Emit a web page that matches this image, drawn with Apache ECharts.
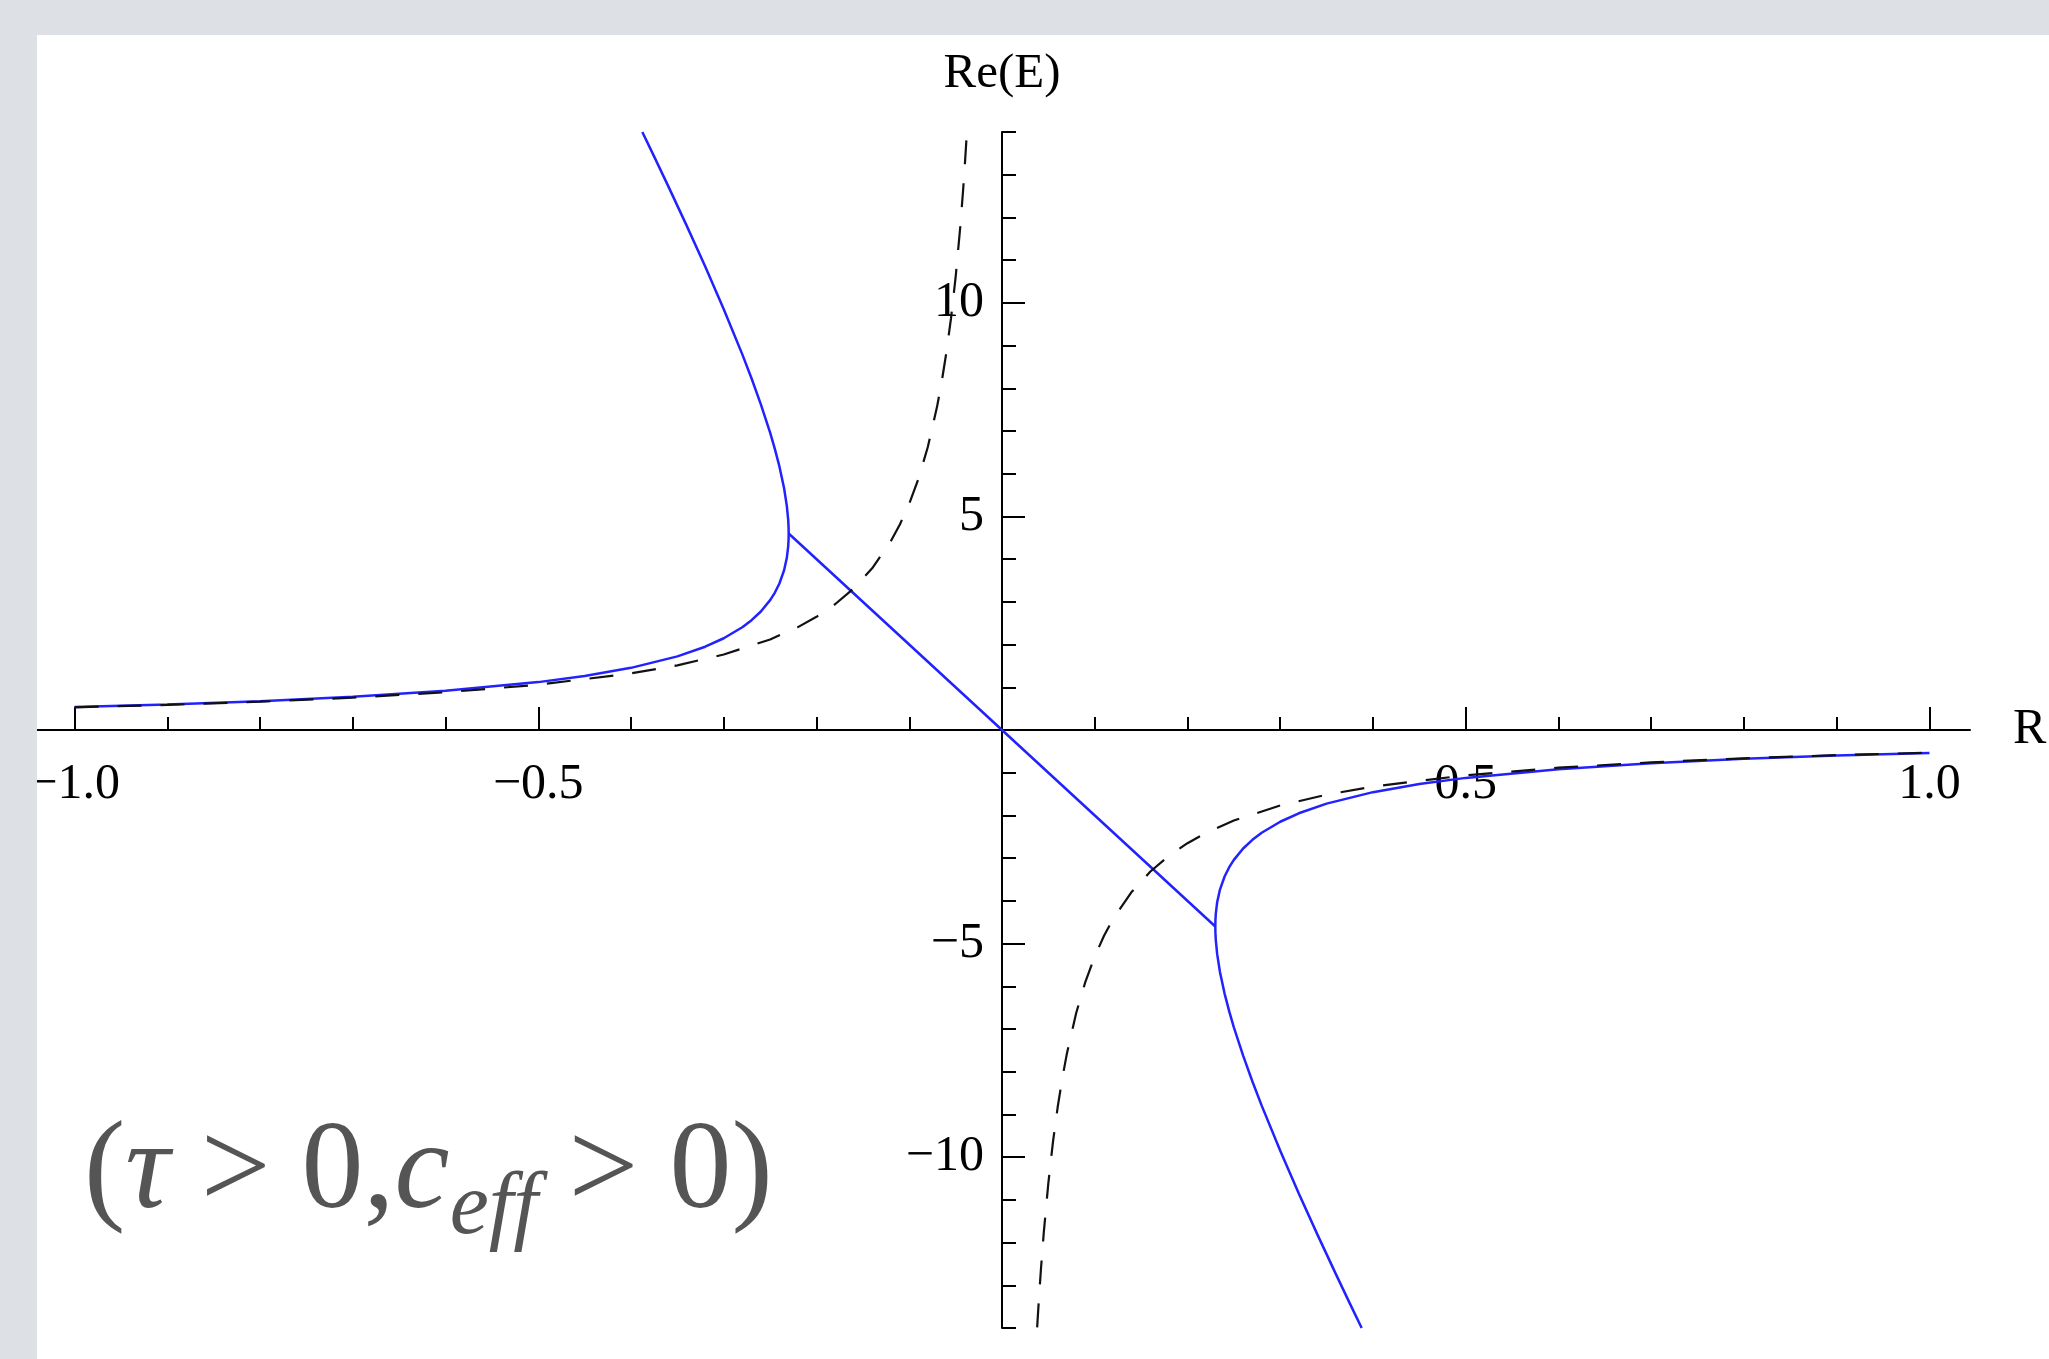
<!DOCTYPE html>
<html>
<head>
<meta charset="utf-8">
<title>Re(E) vs R</title>
<script src="https://cdn.jsdelivr.net/npm/echarts@6/dist/echarts.min.js"></script>
<style>
  html, body { margin: 0; padding: 0; background: #dde1e5; }
  #chart { width: 2049px; height: 1359px; }
</style>
</head>
<body>
<div id="chart"></div>
<script>
// Axis ticks and labels
const X_TICKS_MINOR = [-1.0, -0.9, -0.8, -0.7, -0.6, -0.5, -0.4, -0.3, -0.2, -0.1, 0, 0.1, 0.2, 0.3, 0.4, 0.5, 0.6, 0.7, 0.8, 0.9, 1.0];
const X_TICKS_MAJOR = [-1.0, -0.5, 0, 0.5, 1.0];
const X_TICK_LABELS = [-1.0, -0.5, 0.5, 1.0];
const Y_TICKS_MINOR = [-14, -13, -12, -11, -10, -9, -8, -7, -6, -5, -4, -3, -2, -1, 0, 1, 2, 3, 4, 5, 6, 7, 8, 9, 10, 11, 12, 13, 14];
const Y_TICKS_MAJOR = [-10, -5, 0, 5, 10];
const Y_TICK_LABELS = [-10, -5, 5, 10];

// Re(E) for R < 0: lower branch up to the branch point, then the upper branch
const blueLeft = [
  [-1.0, 0.536], [-0.9, 0.598], [-0.8, 0.675], [-0.7, 0.777], [-0.6, 0.917],
  [-0.5, 1.121], [-0.45, 1.264], [-0.4, 1.455], [-0.35, 1.724], [-0.32, 1.950],
  [-0.3, 2.148], [-0.28, 2.406], [-0.27, 2.572], [-0.26, 2.775], [-0.25, 3.040],
  [-0.245, 3.212], [-0.24, 3.429], [-0.235, 3.736], [-0.232, 4.032], [-0.2305, 4.307],
  [-0.2301, 4.466], [-0.23, 4.6],
  [-0.2301, 4.738], [-0.2305, 4.913], [-0.232, 5.248], [-0.235, 5.664], [-0.24, 6.171],
  [-0.245, 6.588], [-0.25, 6.960], [-0.26, 7.625], [-0.27, 8.228], [-0.28, 8.794],
  [-0.3, 9.852], [-0.32, 10.850], [-0.34, 11.808], [-0.36, 12.739], [-0.375, 13.424],
  [-0.3878, 14.0]
];
// Complex-pair region between the two branch points
const blueMiddle = [[-0.23, 4.6], [0, 0], [0.23, -4.6]];
// Re(E) for R > 0
const blueRight = [
  [1.0, -0.536], [0.9, -0.598], [0.8, -0.675], [0.7, -0.777], [0.6, -0.917],
  [0.5, -1.121], [0.45, -1.264], [0.4, -1.455], [0.35, -1.724], [0.32, -1.950],
  [0.3, -2.148], [0.28, -2.406], [0.27, -2.572], [0.26, -2.775], [0.25, -3.040],
  [0.245, -3.212], [0.24, -3.429], [0.235, -3.736], [0.232, -4.032], [0.2305, -4.307],
  [0.2301, -4.466], [0.23, -4.6],
  [0.2301, -4.738], [0.2305, -4.913], [0.232, -5.248], [0.235, -5.664], [0.24, -6.171],
  [0.245, -6.588], [0.25, -6.960], [0.26, -7.625], [0.27, -8.228], [0.28, -8.794],
  [0.3, -9.852], [0.32, -10.850], [0.34, -11.808], [0.36, -12.739], [0.375, -13.424],
  [0.3878, -14.0]
];
// Reference curve (dashed)
const dashedLeft = [
  [-1.0, 0.53], [-0.9, 0.589], [-0.8, 0.663], [-0.7, 0.757], [-0.6, 0.883],
  [-0.5, 1.06], [-0.4, 1.325], [-0.35, 1.514], [-0.3, 1.767], [-0.25, 2.12],
  [-0.22, 2.409], [-0.2, 2.65], [-0.18, 2.944], [-0.16, 3.313], [-0.14, 3.786],
  [-0.12, 4.417], [-0.11, 4.818], [-0.1, 5.3], [-0.09, 5.889], [-0.08, 6.625],
  [-0.07, 7.571], [-0.065, 8.154], [-0.06, 8.833], [-0.055, 9.636], [-0.05, 10.6],
  [-0.045, 11.778], [-0.042, 12.619], [-0.04, 13.25], [-0.0379, 13.984]
];
const dashedRight = [
  [0.0379, -13.984], [0.04, -13.25], [0.042, -12.619], [0.045, -11.778], [0.05, -10.6],
  [0.055, -9.636], [0.06, -8.833], [0.065, -8.154], [0.07, -7.571], [0.08, -6.625],
  [0.09, -5.889], [0.1, -5.3], [0.11, -4.818], [0.12, -4.417], [0.14, -3.786],
  [0.16, -3.313], [0.18, -2.944], [0.2, -2.65], [0.22, -2.409], [0.25, -2.12],
  [0.3, -1.767], [0.35, -1.514], [0.4, -1.325], [0.5, -1.06], [0.6, -0.883],
  [0.7, -0.757], [0.8, -0.663], [0.9, -0.589], [1.0, -0.53]
];

const X_MIN = -1.0437, X_MAX = 1.0437;
const Y_MIN = -14, Y_MAX = 14;

// Plot box inside the 2049 x 1359 canvas
const W = 2049, H = 1359;
const GRID = { left: 34, right: 79, top: 132, bottom: 31 };
const GRID_W = W - GRID.left - GRID.right;
const GRID_H = H - GRID.top - GRID.bottom;
// Both ranges are symmetric, so the crossing axes sit in the middle of the box.
// Tick labels of an on-zero axis are laid out from the box edge, so the
// margin is shifted back by half the box to keep them next to the axis line.
const X_LABEL_GAP = 30;
const Y_LABEL_GAP = 18;
const X_LABEL_MARGIN = X_LABEL_GAP - GRID_H / 2;
const Y_LABEL_MARGIN = Y_LABEL_GAP - GRID_W / 2;

const SERIF = "'Liberation Serif', 'Times New Roman', serif";
const INK = '#000000';
const BLUE = '#2222ff';
const DASH = '#111111';
const CAPTION = '#555555';
const PANEL_GRAY = '#dde1e5';
const LABEL_SIZE = 50;

function signed(v, digits) {
  const n = Number(v);
  const s = Math.abs(n).toFixed(digits);
  return n < 0 ? '\u2212' + s : s;
}

const chart = echarts.init(document.getElementById('chart'), null, { renderer: 'canvas' });

chart.setOption({
  animation: false,
  backgroundColor: PANEL_GRAY,
  grid: Object.assign({ outerBoundsMode: 'none', containLabel: false }, GRID),
  xAxis: [
    {
      type: 'value', position: 'bottom', min: X_MIN, max: X_MAX,
      name: 'R', nameLocation: 'end', nameGap: 43,
      nameTextStyle: { fontFamily: SERIF, fontSize: LABEL_SIZE, color: INK },
      splitLine: { show: false },
      axisLine: { show: true, onZero: true, onZeroAxisIndex: 0, lineStyle: { color: INK, width: 2 } },
      axisTick: { show: true, inside: true, length: 13, customValues: X_TICKS_MINOR, lineStyle: { color: INK, width: 2 } },
      axisLabel: {
        show: true, margin: X_LABEL_MARGIN, customValues: X_TICK_LABELS,
        fontFamily: SERIF, fontSize: LABEL_SIZE, color: INK,
        formatter: (v) => signed(v, 1)
      }
    },
    {
      type: 'value', position: 'bottom', min: X_MIN, max: X_MAX,
      splitLine: { show: false },
      axisLine: { show: false, onZero: true, onZeroAxisIndex: 0 },
      axisTick: { show: true, inside: true, length: 23, customValues: X_TICKS_MAJOR, lineStyle: { color: INK, width: 2 } },
      axisLabel: { show: false }
    }
  ],
  yAxis: [
    {
      type: 'value', position: 'left', min: Y_MIN, max: Y_MAX,
      name: 'Re(E)', nameLocation: 'end', nameGap: 33,
      nameTextStyle: { fontFamily: SERIF, fontSize: 49, color: INK },
      splitLine: { show: false },
      axisLine: { show: true, onZero: true, onZeroAxisIndex: 0, lineStyle: { color: INK, width: 2 } },
      axisTick: { show: true, inside: true, length: 14, customValues: Y_TICKS_MINOR, lineStyle: { color: INK, width: 2 } },
      axisLabel: {
        show: true, margin: Y_LABEL_MARGIN, customValues: Y_TICK_LABELS,
        fontFamily: SERIF, fontSize: LABEL_SIZE, color: INK,
        formatter: (v) => signed(v, 0)
      }
    },
    {
      type: 'value', position: 'left', min: Y_MIN, max: Y_MAX,
      splitLine: { show: false },
      axisLine: { show: false, onZero: true, onZeroAxisIndex: 0 },
      axisTick: { show: true, inside: true, length: 23, customValues: Y_TICKS_MAJOR, lineStyle: { color: INK, width: 2 } },
      axisLabel: { show: false }
    }
  ],
  graphic: [
    // white page behind the plot
    { type: 'rect', z: -100, silent: true, shape: { x: 37, y: 35, width: 2012, height: 1324 }, style: { fill: '#ffffff' } },
    // grey margins, drawn over the axis ends
    { type: 'rect', z: 100, silent: true, shape: { x: 0, y: 0, width: 37, height: 1359 }, style: { fill: PANEL_GRAY } },
    { type: 'rect', z: 100, silent: true, shape: { x: 0, y: 0, width: 2049, height: 35 }, style: { fill: PANEL_GRAY } },
    // condition caption
    {
      type: 'text', z: 50, silent: true, x: 84, y: 1112,
      style: {
        text: '{n|(}{i|\u03c4}{n| > 0,}{i|c}{s|eff}{n| > 0)}',
        verticalAlign: 'top',
        fill: CAPTION,
        rich: {
          n: { fontFamily: SERIF, fontSize: 124, lineHeight: 136, verticalAlign: 'top', fill: CAPTION },
          i: { fontFamily: SERIF, fontSize: 124, lineHeight: 136, fontStyle: 'italic', verticalAlign: 'top', fill: CAPTION },
          s: { fontFamily: SERIF, fontSize: 88, lineHeight: 94, fontStyle: 'italic', verticalAlign: 'top', padding: [54, 0, 0, 0], fill: CAPTION }
        }
      }
    }
  ],
  series: [
    { name: 'branch R<0', data: blueLeft, color: BLUE, lineStyle: { color: BLUE, width: 2.5 } },
    { name: 'complex pair', data: blueMiddle, color: BLUE, lineStyle: { color: BLUE, width: 2.5 } },
    { name: 'branch R>0', data: blueRight, color: BLUE, lineStyle: { color: BLUE, width: 2.5 } },
    { name: 'reference R<0', data: dashedLeft, color: DASH, lineStyle: { color: DASH, width: 2.2, type: [24, 19] } },
    { name: 'reference R>0', data: dashedRight, color: DASH, lineStyle: { color: DASH, width: 2.2, type: [24, 19] } }
  ].map(s => Object.assign({
    type: 'line', xAxisIndex: 0, yAxisIndex: 0,
    showSymbol: false, symbol: 'none', clip: true, silent: true,
    emphasis: { disabled: true }
  }, s))
});
</script>
</body>
</html>
